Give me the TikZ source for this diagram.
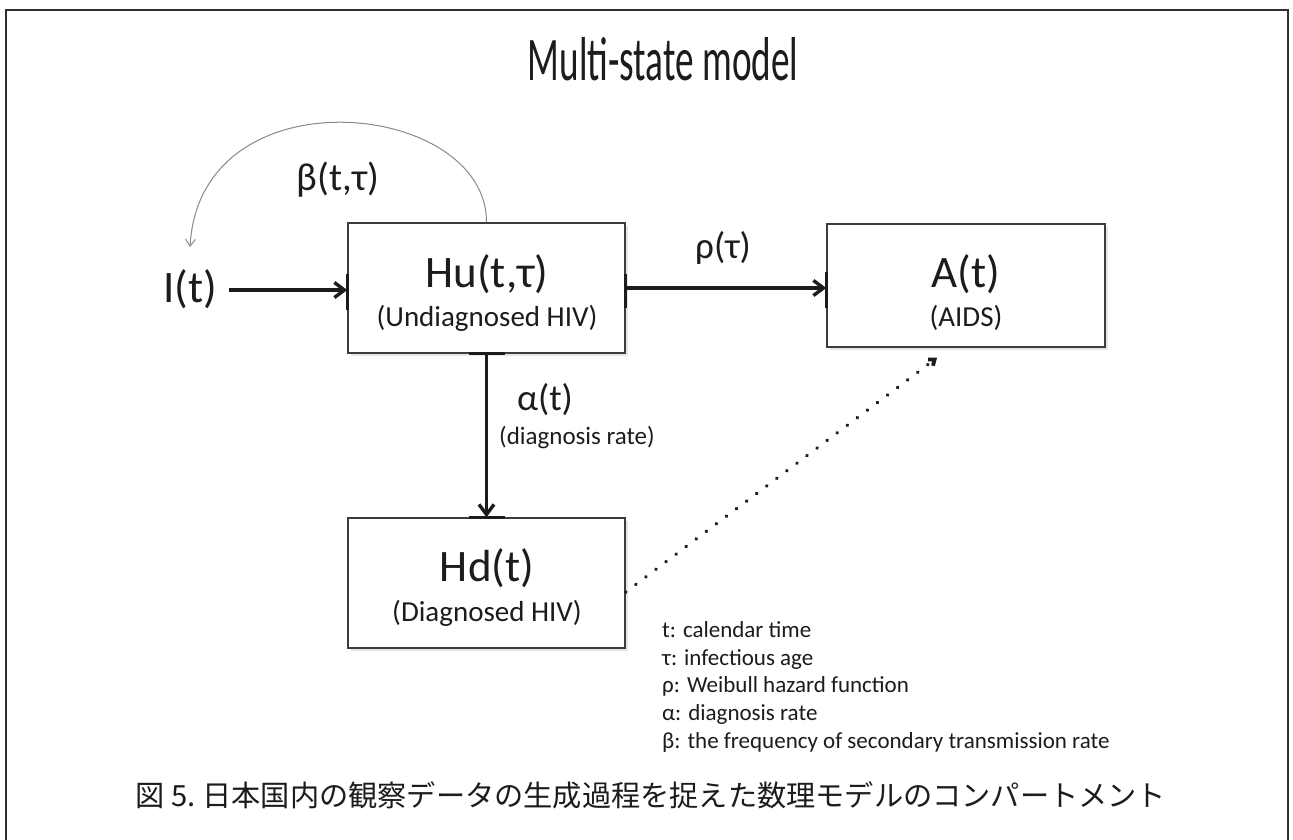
\documentclass[tikz,border=0pt]{standalone}
\usepackage{fontspec}
\setmainfont{Carlito}
\newfontfamily\cjk{Noto Sans CJK JP}
\usetikzlibrary{arrows.meta,calc,shadows}

\definecolor{ink}{HTML}{1C1C1C}
\definecolor{boxline}{HTML}{3C3C3C}
\definecolor{framecol}{HTML}{303030}
\definecolor{loopcol}{HTML}{8A8A8A}

\begin{document}
\begin{tikzpicture}[x=1pt,y=-1pt,
  txt/.style={inner sep=0pt, text=ink},
  statebox/.style={draw=boxline, line width=1.5pt, fill=white,
    minimum width=277pt, minimum height=130pt, inner sep=0pt,
    drop shadow={shadow xshift=2.5pt, shadow yshift=-2.5pt, opacity=0.22, fill=black!45}},
  bigname/.style={txt, font=\fontsize{45}{45}\selectfont},
  subname/.style={txt, font=\fontsize{29}{29}\selectfont},
  ratelabel/.style={txt, font=\fontsize{37}{37}\selectfont},
  legend/.style={txt, anchor=base west, font=\fontsize{23}{23}\selectfont},
  flow/.style={draw=ink, line width=3.4pt, -{Straight Barb[length=10pt,width=15pt]}},
  port/.style={draw=ink, line width=3.4pt},
  dotflow/.style={draw=ink, line width=3.8pt, line cap=round,
    dash pattern=on 0.1pt off 12.5pt, -{Straight Barb[length=5pt,width=8pt]}},
  feedback/.style={draw=loopcol, line width=1pt, -{Straight Barb[length=7pt,width=10pt]}},
  frameline/.style={draw=framecol, line width=2.2pt}]

\useasboundingbox (0,0) rectangle (1293,839);
\fill[white] (0,0) rectangle (1293,839);

% outer frame (open at the bottom edge of the page)
\draw[frameline] (6,850) -- (6,10) -- (1288,10) -- (1288,850);

% title
\node[txt, anchor=base] (title) at (663,80)
  {\scalebox{0.6}[1]{\fontsize{62}{62}\selectfont Multi-state model}};

% compartments
\node[statebox] (hu) at (486.5,288) {};
\node[statebox, minimum width=278pt, minimum height=123pt] (a) at (966,285.5) {};
\node[statebox] (hd) at (486.5,583) {};

\node[bigname] (hutitle) at (487,274) {Hu(t,τ)};
\node[subname] (husub) at (487,318) {(Undiagnosed HIV)};
\node[bigname] (atitle) at (966,274) {A(t)};
\node[subname] (asub) at (966,318) {(AIDS)};
\node[bigname] (hdtitle) at (487,568) {Hd(t)};
\node[subname] (hdsub) at (487,613) {(Diagnosed HIV)};

% inflow of new infections
\node[bigname] (it) at (190,289) {I(t)};

% connection marks on the box edges
\draw[port] ($(hu.west)+(0,-14)$) -- ($(hu.west)+(0,22)$);
\draw[port] ($(hu.east)+(0,-14)$) -- ($(hu.east)+(0,20)$);
\draw[port] ($(a.west)+(0,-14)$) -- ($(a.west)+(0,22)$);
\draw[port] ($(hu.south)+(-18,0)$) -- ($(hu.south)+(18,0)$);
\draw[port] ($(hd.north)+(-18,0)$) -- ($(hd.north)+(18,0)$);

% transitions
\draw[flow] ([xshift=12pt,yshift=-1pt]it.east) -- ([yshift=-1pt]it.east -| hu.west);
\draw[flow] (hu.east) -- (hu.east -| a.west);
\draw[flow] (hu.south) -- (hd.north);
\coordinate (dotend) at ($(a.south)+(-29,10)$);
\draw[dotflow] ($(hd.east)+(0,9)$) -- (dotend);

% secondary transmission loop
\coordinate (loopend) at (190,247);
\draw[feedback] (hu.north) .. controls (487,100) and (200,70) .. (loopend);

% rate labels
\node[ratelabel, font=\fontsize{39}{39}\selectfont] (beta) at (338,180) {β(t,τ)};
\node[ratelabel] (rho) at (723,248) {ρ(τ)};
\node[ratelabel] (alpha) at (545,400) {α(t)};
\node[txt, font=\fontsize{25}{25}\selectfont] (alphasub) at (577,437) {(diagnosis rate)};

% notation
\node[legend] (l1) at (662,637) {t: calendar time};
\node[legend] (l2) at (662,665) {τ: infectious age};
\node[legend] (l3) at (662,692) {ρ: Weibull hazard function};
\node[legend] (l4) at (662,720) {α: diagnosis rate};
\node[legend] (l5) at (662,748) {β: the frequency of secondary transmission rate};

% caption
\node[txt, font=\cjk\fontsize{29.2}{29.2}\selectfont] (caption) at (651,795)
  {図 5.\ 日本国内の観察データの生成過程を捉えた数理モデルのコンパートメント};

\end{tikzpicture}
\end{document}
